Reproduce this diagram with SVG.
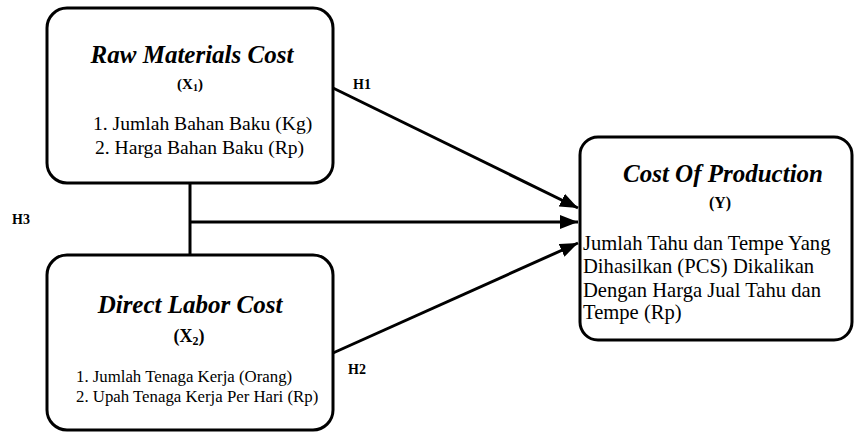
<svg xmlns="http://www.w3.org/2000/svg" width="854" height="432" viewBox="0 0 854 432" font-family="'Liberation Serif', 'Times New Roman', Times, serif">
<style>
.box{fill:#fff;stroke:#000;stroke-width:3}
.ln{stroke:#000;stroke-width:3;fill:none}
text{font-family:'Liberation Serif','Times New Roman',Times,serif;fill:#000}
.title{font-size:25px;font-weight:bold;font-style:italic}
.var{font-weight:bold}
.body{font-size:19.6px}
.body3{font-size:20.6px}
.body2{font-size:16.8px}
.h{font-size:14px;font-weight:bold}
</style>
<defs>
<marker id="arr" markerUnits="userSpaceOnUse" markerWidth="20" markerHeight="14" refX="18" refY="7" orient="auto">
<path d="M0,0 L18,7 L0,14 Z" fill="#000"/>
</marker>
</defs>
<rect width="854" height="432" fill="#fff"/>
<g id="connectors">
<line class="ln" x1="333" y1="88" x2="578" y2="208" marker-end="url(#arr)"/>
<line class="ln" x1="190" y1="183" x2="190" y2="255"/>
<line class="ln" x1="190" y1="222" x2="578" y2="222" marker-end="url(#arr)"/>
<line class="ln" x1="333" y1="353" x2="578" y2="243" marker-end="url(#arr)"/>
<text class="h" x="353" y="89">H1</text>
<text class="h" x="348" y="374">H2</text>
<text class="h" x="12" y="224">H3</text>
</g>
<g id="x1">
<rect class="box" x="47" y="8" width="286" height="175" rx="20"/>
<text class="title" x="192" y="63" text-anchor="middle">Raw Materials Cost</text>
<text class="var" x="190" y="89" text-anchor="middle" font-size="15">(X<tspan font-size="10" dy="2">1</tspan><tspan dy="-2">)</tspan></text>
<text class="body" x="93" y="130">1. Jumlah Bahan Baku (Kg)</text>
<text class="body" x="95" y="154">2. Harga Bahan Baku (Rp)</text>
</g>
<g id="x2">
<rect class="box" x="47" y="255" width="286" height="175" rx="20"/>
<text class="title" x="190" y="313" text-anchor="middle">Direct Labor Cost</text>
<text class="var" x="189" y="342" text-anchor="middle" font-size="18">(X<tspan font-size="12" dy="3">2</tspan><tspan dy="-3">)</tspan></text>
<text class="body2" x="76" y="382">1. Jumlah Tenaga Kerja (Orang)</text>
<text class="body2" x="76" y="402">2. Upah Tenaga Kerja Per Hari (Rp)</text>
</g>
<g id="y">
<rect class="box" x="580" y="137" width="272" height="203" rx="18"/>
<text class="title" x="723" y="182" text-anchor="middle">Cost Of Production</text>
<text class="var" x="720" y="208" text-anchor="middle" font-size="16">(Y)</text>
<text class="body3" x="583" y="250">Jumlah Tahu dan Tempe Yang</text>
<text class="body3" x="583" y="273">Dihasilkan (PCS) Dikalikan</text>
<text class="body3" x="583" y="297">Dengan Harga Jual Tahu dan</text>
<text class="body3" x="583" y="319">Tempe (Rp)</text>
</g>
</svg>
